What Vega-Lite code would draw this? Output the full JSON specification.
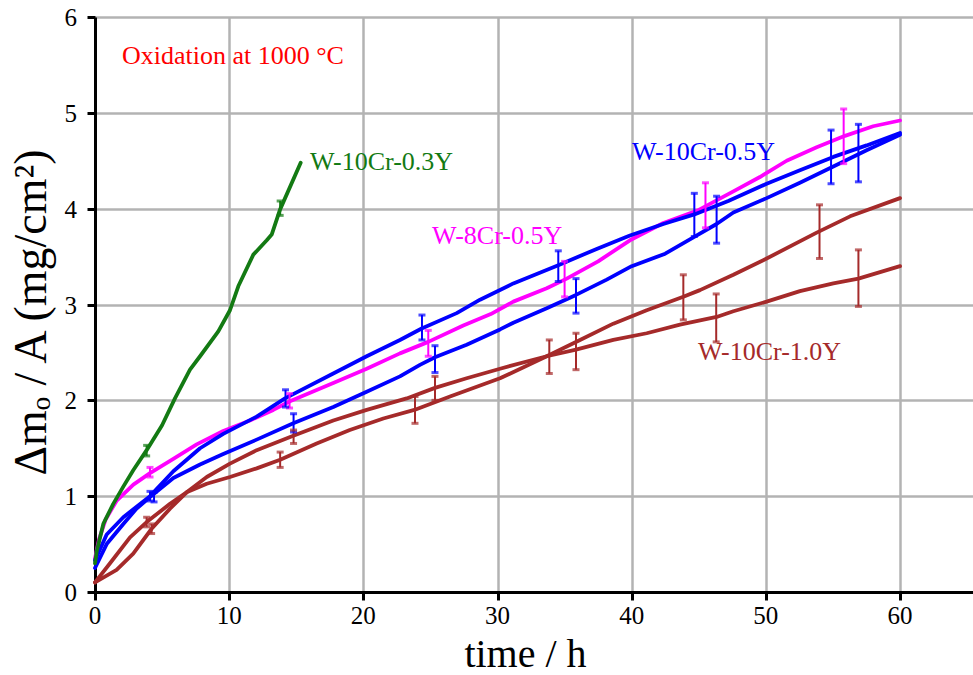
{
  "$schema": "https://vega.github.io/schema/vega-lite/v6.json",
  "width": 878,
  "height": 575,
  "autosize": {"type": "none"},
  "padding": {"left": 95, "top": 17, "right": 0, "bottom": 83},
  "background": "white",
  "config": {
    "view": {"stroke": null},
    "font": "Liberation Serif",
    "axis": {
      "labels": false,
      "titleFont": "Liberation Serif",
      "titleFontWeight": "normal",
      "titleColor": "black",
      "domainColor": "black",
      "domainWidth": 3,
      "tickColor": "black",
      "tickWidth": 3,
      "tickSize": 8,
      "gridColor": "#b3b3b3",
      "gridWidth": 2.5,
      "gridOpacity": 1
    }
  },
  "datasets": {
    "xticks": [{"v": 0}, {"v": 10}, {"v": 20}, {"v": 30}, {"v": 40}, {"v": 50}, {"v": 60}],
    "yticks": [{"v": 0}, {"v": 1}, {"v": 2}, {"v": 3}, {"v": 4}, {"v": 5}, {"v": 6}],
    "lines": [
      {"curve": "M", "alloy": "W-8Cr-0.5Y", "t": 0, "m": 0.35},
      {"curve": "M", "alloy": "W-8Cr-0.5Y", "t": 0.3, "m": 0.55},
      {"curve": "M", "alloy": "W-8Cr-0.5Y", "t": 0.8, "m": 0.76},
      {"curve": "M", "alloy": "W-8Cr-0.5Y", "t": 1.6, "m": 0.95},
      {"curve": "M", "alloy": "W-8Cr-0.5Y", "t": 2.86, "m": 1.12},
      {"curve": "M", "alloy": "W-8Cr-0.5Y", "t": 4.1, "m": 1.24},
      {"curve": "M", "alloy": "W-8Cr-0.5Y", "t": 5.84, "m": 1.39},
      {"curve": "M", "alloy": "W-8Cr-0.5Y", "t": 7.58, "m": 1.54},
      {"curve": "M", "alloy": "W-8Cr-0.5Y", "t": 9.56, "m": 1.68},
      {"curve": "M", "alloy": "W-8Cr-0.5Y", "t": 11.55, "m": 1.79},
      {"curve": "M", "alloy": "W-8Cr-0.5Y", "t": 13.29, "m": 1.9},
      {"curve": "M", "alloy": "W-8Cr-0.5Y", "t": 14.53, "m": 1.99},
      {"curve": "M", "alloy": "W-8Cr-0.5Y", "t": 17.76, "m": 2.18},
      {"curve": "M", "alloy": "W-8Cr-0.5Y", "t": 20.25, "m": 2.33},
      {"curve": "M", "alloy": "W-8Cr-0.5Y", "t": 22.73, "m": 2.49},
      {"curve": "M", "alloy": "W-8Cr-0.5Y", "t": 24.84, "m": 2.61},
      {"curve": "M", "alloy": "W-8Cr-0.5Y", "t": 27.45, "m": 2.78},
      {"curve": "M", "alloy": "W-8Cr-0.5Y", "t": 29.5, "m": 2.9},
      {"curve": "M", "alloy": "W-8Cr-0.5Y", "t": 31.18, "m": 3.03},
      {"curve": "M", "alloy": "W-8Cr-0.5Y", "t": 33.67, "m": 3.17},
      {"curve": "M", "alloy": "W-8Cr-0.5Y", "t": 35.16, "m": 3.27},
      {"curve": "M", "alloy": "W-8Cr-0.5Y", "t": 37.5, "m": 3.45},
      {"curve": "M", "alloy": "W-8Cr-0.5Y", "t": 39.87, "m": 3.67},
      {"curve": "M", "alloy": "W-8Cr-0.5Y", "t": 42.36, "m": 3.85},
      {"curve": "M", "alloy": "W-8Cr-0.5Y", "t": 44.9, "m": 3.98},
      {"curve": "M", "alloy": "W-8Cr-0.5Y", "t": 47.58, "m": 4.18},
      {"curve": "M", "alloy": "W-8Cr-0.5Y", "t": 49.56, "m": 4.33},
      {"curve": "M", "alloy": "W-8Cr-0.5Y", "t": 51.55, "m": 4.5},
      {"curve": "M", "alloy": "W-8Cr-0.5Y", "t": 53.79, "m": 4.64},
      {"curve": "M", "alloy": "W-8Cr-0.5Y", "t": 55.9, "m": 4.76},
      {"curve": "M", "alloy": "W-8Cr-0.5Y", "t": 58.0, "m": 4.86},
      {"curve": "M", "alloy": "W-8Cr-0.5Y", "t": 60, "m": 4.92},

      {"curve": "B1", "alloy": "W-10Cr-0.5Y", "t": 0, "m": 0.33},
      {"curve": "B1", "alloy": "W-10Cr-0.5Y", "t": 0.87, "m": 0.6},
      {"curve": "B1", "alloy": "W-10Cr-0.5Y", "t": 2.11, "m": 0.78},
      {"curve": "B1", "alloy": "W-10Cr-0.5Y", "t": 3.1, "m": 0.89},
      {"curve": "B1", "alloy": "W-10Cr-0.5Y", "t": 4.1, "m": 1.0},
      {"curve": "B1", "alloy": "W-10Cr-0.5Y", "t": 5.84, "m": 1.26},
      {"curve": "B1", "alloy": "W-10Cr-0.5Y", "t": 7.83, "m": 1.5},
      {"curve": "B1", "alloy": "W-10Cr-0.5Y", "t": 9.56, "m": 1.65},
      {"curve": "B1", "alloy": "W-10Cr-0.5Y", "t": 12.05, "m": 1.83},
      {"curve": "B1", "alloy": "W-10Cr-0.5Y", "t": 14.16, "m": 2.02},
      {"curve": "B1", "alloy": "W-10Cr-0.5Y", "t": 17.76, "m": 2.28},
      {"curve": "B1", "alloy": "W-10Cr-0.5Y", "t": 20.25, "m": 2.46},
      {"curve": "B1", "alloy": "W-10Cr-0.5Y", "t": 22.73, "m": 2.63},
      {"curve": "B1", "alloy": "W-10Cr-0.5Y", "t": 24.35, "m": 2.75},
      {"curve": "B1", "alloy": "W-10Cr-0.5Y", "t": 26.96, "m": 2.91},
      {"curve": "B1", "alloy": "W-10Cr-0.5Y", "t": 28.7, "m": 3.05},
      {"curve": "B1", "alloy": "W-10Cr-0.5Y", "t": 31.18, "m": 3.22},
      {"curve": "B1", "alloy": "W-10Cr-0.5Y", "t": 34.53, "m": 3.41},
      {"curve": "B1", "alloy": "W-10Cr-0.5Y", "t": 37.39, "m": 3.58},
      {"curve": "B1", "alloy": "W-10Cr-0.5Y", "t": 39.87, "m": 3.72},
      {"curve": "B1", "alloy": "W-10Cr-0.5Y", "t": 42.36, "m": 3.84},
      {"curve": "B1", "alloy": "W-10Cr-0.5Y", "t": 44.67, "m": 3.94},
      {"curve": "B1", "alloy": "W-10Cr-0.5Y", "t": 47.2, "m": 4.08},
      {"curve": "B1", "alloy": "W-10Cr-0.5Y", "t": 50.06, "m": 4.26},
      {"curve": "B1", "alloy": "W-10Cr-0.5Y", "t": 52.54, "m": 4.4},
      {"curve": "B1", "alloy": "W-10Cr-0.5Y", "t": 55.03, "m": 4.54},
      {"curve": "B1", "alloy": "W-10Cr-0.5Y", "t": 57.51, "m": 4.66},
      {"curve": "B1", "alloy": "W-10Cr-0.5Y", "t": 60, "m": 4.79},

      {"curve": "B2", "alloy": "W-10Cr-0.5Y", "t": 0, "m": 0.25},
      {"curve": "B2", "alloy": "W-10Cr-0.5Y", "t": 0.87, "m": 0.5},
      {"curve": "B2", "alloy": "W-10Cr-0.5Y", "t": 2.11, "m": 0.71},
      {"curve": "B2", "alloy": "W-10Cr-0.5Y", "t": 3.1, "m": 0.87},
      {"curve": "B2", "alloy": "W-10Cr-0.5Y", "t": 4.1, "m": 0.99},
      {"curve": "B2", "alloy": "W-10Cr-0.5Y", "t": 5.84, "m": 1.19},
      {"curve": "B2", "alloy": "W-10Cr-0.5Y", "t": 7.83, "m": 1.33},
      {"curve": "B2", "alloy": "W-10Cr-0.5Y", "t": 9.56, "m": 1.44},
      {"curve": "B2", "alloy": "W-10Cr-0.5Y", "t": 12.05, "m": 1.59},
      {"curve": "B2", "alloy": "W-10Cr-0.5Y", "t": 14.78, "m": 1.76},
      {"curve": "B2", "alloy": "W-10Cr-0.5Y", "t": 17.76, "m": 1.93},
      {"curve": "B2", "alloy": "W-10Cr-0.5Y", "t": 20.25, "m": 2.09},
      {"curve": "B2", "alloy": "W-10Cr-0.5Y", "t": 22.73, "m": 2.25},
      {"curve": "B2", "alloy": "W-10Cr-0.5Y", "t": 24.22, "m": 2.37},
      {"curve": "B2", "alloy": "W-10Cr-0.5Y", "t": 25.34, "m": 2.45},
      {"curve": "B2", "alloy": "W-10Cr-0.5Y", "t": 27.7, "m": 2.58},
      {"curve": "B2", "alloy": "W-10Cr-0.5Y", "t": 30.19, "m": 2.74},
      {"curve": "B2", "alloy": "W-10Cr-0.5Y", "t": 31.18, "m": 2.81},
      {"curve": "B2", "alloy": "W-10Cr-0.5Y", "t": 33.67, "m": 2.96},
      {"curve": "B2", "alloy": "W-10Cr-0.5Y", "t": 35.85, "m": 3.1},
      {"curve": "B2", "alloy": "W-10Cr-0.5Y", "t": 38.14, "m": 3.26},
      {"curve": "B2", "alloy": "W-10Cr-0.5Y", "t": 40.0, "m": 3.4},
      {"curve": "B2", "alloy": "W-10Cr-0.5Y", "t": 42.5, "m": 3.53},
      {"curve": "B2", "alloy": "W-10Cr-0.5Y", "t": 44.6, "m": 3.7},
      {"curve": "B2", "alloy": "W-10Cr-0.5Y", "t": 46.33, "m": 3.84},
      {"curve": "B2", "alloy": "W-10Cr-0.5Y", "t": 47.58, "m": 3.96},
      {"curve": "B2", "alloy": "W-10Cr-0.5Y", "t": 50.06, "m": 4.11},
      {"curve": "B2", "alloy": "W-10Cr-0.5Y", "t": 52.54, "m": 4.27},
      {"curve": "B2", "alloy": "W-10Cr-0.5Y", "t": 55.03, "m": 4.44},
      {"curve": "B2", "alloy": "W-10Cr-0.5Y", "t": 57.51, "m": 4.61},
      {"curve": "B2", "alloy": "W-10Cr-0.5Y", "t": 60, "m": 4.77},

      {"curve": "RA", "alloy": "W-10Cr-1.0Y", "t": 0, "m": 0.1},
      {"curve": "RA", "alloy": "W-10Cr-1.0Y", "t": 1.12, "m": 0.3},
      {"curve": "RA", "alloy": "W-10Cr-1.0Y", "t": 2.61, "m": 0.57},
      {"curve": "RA", "alloy": "W-10Cr-1.0Y", "t": 3.85, "m": 0.73},
      {"curve": "RA", "alloy": "W-10Cr-1.0Y", "t": 5.59, "m": 0.92},
      {"curve": "RA", "alloy": "W-10Cr-1.0Y", "t": 6.83, "m": 1.04},
      {"curve": "RA", "alloy": "W-10Cr-1.0Y", "t": 8.33, "m": 1.13},
      {"curve": "RA", "alloy": "W-10Cr-1.0Y", "t": 10.06, "m": 1.2},
      {"curve": "RA", "alloy": "W-10Cr-1.0Y", "t": 12.05, "m": 1.29},
      {"curve": "RA", "alloy": "W-10Cr-1.0Y", "t": 13.8, "m": 1.38},
      {"curve": "RA", "alloy": "W-10Cr-1.0Y", "t": 16.52, "m": 1.55},
      {"curve": "RA", "alloy": "W-10Cr-1.0Y", "t": 18.99, "m": 1.69},
      {"curve": "RA", "alloy": "W-10Cr-1.0Y", "t": 21.49, "m": 1.81},
      {"curve": "RA", "alloy": "W-10Cr-1.0Y", "t": 23.8, "m": 1.9},
      {"curve": "RA", "alloy": "W-10Cr-1.0Y", "t": 26.46, "m": 2.04},
      {"curve": "RA", "alloy": "W-10Cr-1.0Y", "t": 30.19, "m": 2.23},
      {"curve": "RA", "alloy": "W-10Cr-1.0Y", "t": 33.67, "m": 2.46},
      {"curve": "RA", "alloy": "W-10Cr-1.0Y", "t": 36.15, "m": 2.63},
      {"curve": "RA", "alloy": "W-10Cr-1.0Y", "t": 38.63, "m": 2.8},
      {"curve": "RA", "alloy": "W-10Cr-1.0Y", "t": 41.12, "m": 2.94},
      {"curve": "RA", "alloy": "W-10Cr-1.0Y", "t": 43.85, "m": 3.08},
      {"curve": "RA", "alloy": "W-10Cr-1.0Y", "t": 45.09, "m": 3.15},
      {"curve": "RA", "alloy": "W-10Cr-1.0Y", "t": 47.58, "m": 3.31},
      {"curve": "RA", "alloy": "W-10Cr-1.0Y", "t": 50.06, "m": 3.48},
      {"curve": "RA", "alloy": "W-10Cr-1.0Y", "t": 53.79, "m": 3.75},
      {"curve": "RA", "alloy": "W-10Cr-1.0Y", "t": 56.28, "m": 3.92},
      {"curve": "RA", "alloy": "W-10Cr-1.0Y", "t": 60, "m": 4.11},

      {"curve": "RB", "alloy": "W-10Cr-1.0Y", "t": 0, "m": 0.1},
      {"curve": "RB", "alloy": "W-10Cr-1.0Y", "t": 1.61, "m": 0.23},
      {"curve": "RB", "alloy": "W-10Cr-1.0Y", "t": 2.85, "m": 0.4},
      {"curve": "RB", "alloy": "W-10Cr-1.0Y", "t": 4.22, "m": 0.66},
      {"curve": "RB", "alloy": "W-10Cr-1.0Y", "t": 5.59, "m": 0.87},
      {"curve": "RB", "alloy": "W-10Cr-1.0Y", "t": 6.83, "m": 1.04},
      {"curve": "RB", "alloy": "W-10Cr-1.0Y", "t": 8.33, "m": 1.2},
      {"curve": "RB", "alloy": "W-10Cr-1.0Y", "t": 10.06, "m": 1.34},
      {"curve": "RB", "alloy": "W-10Cr-1.0Y", "t": 12.05, "m": 1.48},
      {"curve": "RB", "alloy": "W-10Cr-1.0Y", "t": 14.78, "m": 1.63},
      {"curve": "RB", "alloy": "W-10Cr-1.0Y", "t": 17.76, "m": 1.79},
      {"curve": "RB", "alloy": "W-10Cr-1.0Y", "t": 20.25, "m": 1.9},
      {"curve": "RB", "alloy": "W-10Cr-1.0Y", "t": 23.23, "m": 2.02},
      {"curve": "RB", "alloy": "W-10Cr-1.0Y", "t": 25.34, "m": 2.13},
      {"curve": "RB", "alloy": "W-10Cr-1.0Y", "t": 27.7, "m": 2.23},
      {"curve": "RB", "alloy": "W-10Cr-1.0Y", "t": 30.19, "m": 2.33},
      {"curve": "RB", "alloy": "W-10Cr-1.0Y", "t": 33.67, "m": 2.46},
      {"curve": "RB", "alloy": "W-10Cr-1.0Y", "t": 35.85, "m": 2.53},
      {"curve": "RB", "alloy": "W-10Cr-1.0Y", "t": 38.63, "m": 2.63},
      {"curve": "RB", "alloy": "W-10Cr-1.0Y", "t": 41.12, "m": 2.7},
      {"curve": "RB", "alloy": "W-10Cr-1.0Y", "t": 43.6, "m": 2.79},
      {"curve": "RB", "alloy": "W-10Cr-1.0Y", "t": 46.33, "m": 2.87},
      {"curve": "RB", "alloy": "W-10Cr-1.0Y", "t": 47.58, "m": 2.93},
      {"curve": "RB", "alloy": "W-10Cr-1.0Y", "t": 50.06, "m": 3.03},
      {"curve": "RB", "alloy": "W-10Cr-1.0Y", "t": 52.54, "m": 3.14},
      {"curve": "RB", "alloy": "W-10Cr-1.0Y", "t": 55.03, "m": 3.22},
      {"curve": "RB", "alloy": "W-10Cr-1.0Y", "t": 56.9, "m": 3.27},
      {"curve": "RB", "alloy": "W-10Cr-1.0Y", "t": 60, "m": 3.4},

      {"curve": "G", "alloy": "W-10Cr-0.3Y", "t": 0, "m": 0.3},
      {"curve": "G", "alloy": "W-10Cr-0.3Y", "t": 0.12, "m": 0.42},
      {"curve": "G", "alloy": "W-10Cr-0.3Y", "t": 0.62, "m": 0.71},
      {"curve": "G", "alloy": "W-10Cr-0.3Y", "t": 1.36, "m": 0.92},
      {"curve": "G", "alloy": "W-10Cr-0.3Y", "t": 2.11, "m": 1.1},
      {"curve": "G", "alloy": "W-10Cr-0.3Y", "t": 2.85, "m": 1.27},
      {"curve": "G", "alloy": "W-10Cr-0.3Y", "t": 3.85, "m": 1.48},
      {"curve": "G", "alloy": "W-10Cr-0.3Y", "t": 5.0, "m": 1.74},
      {"curve": "G", "alloy": "W-10Cr-0.3Y", "t": 5.96, "m": 2.02},
      {"curve": "G", "alloy": "W-10Cr-0.3Y", "t": 7.08, "m": 2.32},
      {"curve": "G", "alloy": "W-10Cr-0.3Y", "t": 7.83, "m": 2.46},
      {"curve": "G", "alloy": "W-10Cr-0.3Y", "t": 9.19, "m": 2.72},
      {"curve": "G", "alloy": "W-10Cr-0.3Y", "t": 10.06, "m": 2.94},
      {"curve": "G", "alloy": "W-10Cr-0.3Y", "t": 10.68, "m": 3.19},
      {"curve": "G", "alloy": "W-10Cr-0.3Y", "t": 11.8, "m": 3.52},
      {"curve": "G", "alloy": "W-10Cr-0.3Y", "t": 12.8, "m": 3.67},
      {"curve": "G", "alloy": "W-10Cr-0.3Y", "t": 13.17, "m": 3.73},
      {"curve": "G", "alloy": "W-10Cr-0.3Y", "t": 13.79, "m": 3.99},
      {"curve": "G", "alloy": "W-10Cr-0.3Y", "t": 15.33, "m": 4.48}
    ],
    "bars": [
      {"alloy": "W-10Cr-0.3Y", "t": 3.85, "lo": 1.42, "hi": 1.53},
      {"alloy": "W-10Cr-0.3Y", "t": 13.8, "lo": 3.93, "hi": 4.08},
      {"alloy": "W-8Cr-0.5Y", "t": 4.1, "lo": 1.2, "hi": 1.3},
      {"alloy": "W-8Cr-0.5Y", "t": 14.5, "lo": 1.92, "hi": 2.07},
      {"alloy": "W-8Cr-0.5Y", "t": 24.84, "lo": 2.46, "hi": 2.73},
      {"alloy": "W-8Cr-0.5Y", "t": 35.0, "lo": 3.08, "hi": 3.45},
      {"alloy": "W-8Cr-0.5Y", "t": 45.5, "lo": 3.8, "hi": 4.27},
      {"alloy": "W-8Cr-0.5Y", "t": 55.8, "lo": 4.47, "hi": 5.04},
      {"alloy": "W-10Cr-0.5Y", "t": 4.1, "lo": 0.95, "hi": 1.05},
      {"alloy": "W-10Cr-0.5Y", "t": 4.4, "lo": 0.94, "hi": 1.04},
      {"alloy": "W-10Cr-0.5Y", "t": 14.2, "lo": 1.93, "hi": 2.11},
      {"alloy": "W-10Cr-0.5Y", "t": 14.8, "lo": 1.67, "hi": 1.86},
      {"alloy": "W-10Cr-0.5Y", "t": 24.37, "lo": 2.63, "hi": 2.89},
      {"alloy": "W-10Cr-0.5Y", "t": 25.34, "lo": 2.29, "hi": 2.57},
      {"alloy": "W-10Cr-0.5Y", "t": 34.53, "lo": 3.24, "hi": 3.56},
      {"alloy": "W-10Cr-0.5Y", "t": 35.85, "lo": 2.91, "hi": 3.27},
      {"alloy": "W-10Cr-0.5Y", "t": 44.67, "lo": 3.71, "hi": 4.16},
      {"alloy": "W-10Cr-0.5Y", "t": 46.33, "lo": 3.64, "hi": 4.13},
      {"alloy": "W-10Cr-0.5Y", "t": 54.86, "lo": 4.26, "hi": 4.82},
      {"alloy": "W-10Cr-0.5Y", "t": 56.9, "lo": 4.28, "hi": 4.88},
      {"alloy": "W-10Cr-1.0Y", "t": 3.85, "lo": 0.68, "hi": 0.78},
      {"alloy": "W-10Cr-1.0Y", "t": 4.22, "lo": 0.61, "hi": 0.71},
      {"alloy": "W-10Cr-1.0Y", "t": 13.8, "lo": 1.3, "hi": 1.46},
      {"alloy": "W-10Cr-1.0Y", "t": 14.8, "lo": 1.55, "hi": 1.69},
      {"alloy": "W-10Cr-1.0Y", "t": 23.85, "lo": 1.76, "hi": 2.04},
      {"alloy": "W-10Cr-1.0Y", "t": 25.34, "lo": 2.0, "hi": 2.25},
      {"alloy": "W-10Cr-1.0Y", "t": 33.86, "lo": 2.28, "hi": 2.63},
      {"alloy": "W-10Cr-1.0Y", "t": 35.85, "lo": 2.32, "hi": 2.7},
      {"alloy": "W-10Cr-1.0Y", "t": 43.85, "lo": 2.84, "hi": 3.31},
      {"alloy": "W-10Cr-1.0Y", "t": 46.3, "lo": 2.61, "hi": 3.11},
      {"alloy": "W-10Cr-1.0Y", "t": 54.0, "lo": 3.48, "hi": 4.04},
      {"alloy": "W-10Cr-1.0Y", "t": 56.9, "lo": 2.98, "hi": 3.57}
    ],
    "labels": [
      {"alloy": "W-10Cr-0.3Y", "text": "W-10Cr-0.3Y", "t": 16.02, "m": 4.49},
      {"alloy": "W-10Cr-0.5Y", "text": "W-10Cr-0.5Y", "t": 40.02, "m": 4.59},
      {"alloy": "W-8Cr-0.5Y", "text": "W-8Cr-0.5Y", "t": 25.12, "m": 3.71},
      {"alloy": "W-10Cr-1.0Y", "text": "W-10Cr-1.0Y", "t": 44.94, "m": 2.5},
      {"alloy": "note", "text": "Oxidation at 1000 °C", "t": 2.01, "m": 5.59}
    ]
  },
  "layer": [
    {
      "data": {"name": "lines"},
      "mark": {"type": "line", "strokeWidth": 3.8, "strokeJoin": "round", "strokeCap": "round"},
      "encoding": {
        "x": {"field": "t", "type": "quantitative", "scale": {"domain": [0, 65.44], "nice": false, "zero": false},
              "axis": {"values": [0, 10, 20, 30, 40, 50, 60], "title": "time / h", "titleFontSize": 40,
                       "titleX": 430, "titleY": 74, "titleBaseline": "alphabetic"}},
        "y": {"field": "m", "type": "quantitative", "scale": {"domain": [0, 6], "nice": false},
              "axis": {"values": [0, 1, 2, 3, 4, 5, 6], "title": "Δmₒ / A (mg/cm²)",
                       "titleFontSize": 46, "titleY": 295, "titleX": -50, "titleBaseline": "alphabetic"}},
        "detail": {"field": "curve"},
        "order": {"field": "t", "type": "quantitative"},
        "color": {"field": "alloy", "type": "nominal", "legend": null,
                  "scale": {"domain": ["W-10Cr-0.3Y", "W-8Cr-0.5Y", "W-10Cr-0.5Y", "W-10Cr-1.0Y", "note"],
                            "range": ["#137a13", "#ff00ff", "#0000ff", "#a52a2a", "#ff0000"]}}
      }
    },
    {
      "data": {"name": "bars"},
      "mark": {"type": "rule", "strokeWidth": 2},
      "encoding": {
        "x": {"field": "t", "type": "quantitative"},
        "y": {"field": "lo", "type": "quantitative"},
        "y2": {"field": "hi"},
        "color": {"field": "alloy", "type": "nominal", "legend": null}
      }
    },
    {
      "data": {"name": "bars"},
      "mark": {"type": "tick", "orient": "horizontal", "size": 7, "thickness": 3},
      "encoding": {
        "x": {"field": "t", "type": "quantitative"},
        "y": {"field": "lo", "type": "quantitative"},
        "color": {"field": "alloy", "type": "nominal", "legend": null}
      }
    },
    {
      "data": {"name": "bars"},
      "mark": {"type": "tick", "orient": "horizontal", "size": 7, "thickness": 3},
      "encoding": {
        "x": {"field": "t", "type": "quantitative"},
        "y": {"field": "hi", "type": "quantitative"},
        "color": {"field": "alloy", "type": "nominal", "legend": null}
      }
    },
    {
      "data": {"name": "labels"},
      "mark": {"type": "text", "align": "left", "baseline": "middle", "font": "Liberation Serif", "fontSize": 26},
      "encoding": {
        "x": {"field": "t", "type": "quantitative"},
        "y": {"field": "m", "type": "quantitative"},
        "text": {"field": "text"},
        "color": {"field": "alloy", "type": "nominal", "legend": null}
      }
    },
    {
      "data": {"name": "xticks"},
      "mark": {"type": "text", "align": "center", "baseline": "alphabetic", "dy": 32, "font": "Liberation Serif", "fontSize": 25, "color": "black", "clip": false},
      "encoding": {
        "x": {"field": "v", "type": "quantitative"},
        "y": {"datum": 0},
        "text": {"field": "v", "type": "quantitative", "format": "d"}
      }
    },
    {
      "data": {"name": "yticks"},
      "mark": {"type": "text", "align": "right", "baseline": "middle", "dx": -18, "dy": 1, "font": "Liberation Serif", "fontSize": 25, "color": "black", "clip": false},
      "encoding": {
        "y": {"field": "v", "type": "quantitative"},
        "x": {"datum": 0},
        "text": {"field": "v", "type": "quantitative", "format": "d"}
      }
    },
    {
      "mark": {"type": "rule", "color": "black", "strokeWidth": 3},
      "encoding": {"y": {"datum": 6}}
    }
  ]
}
